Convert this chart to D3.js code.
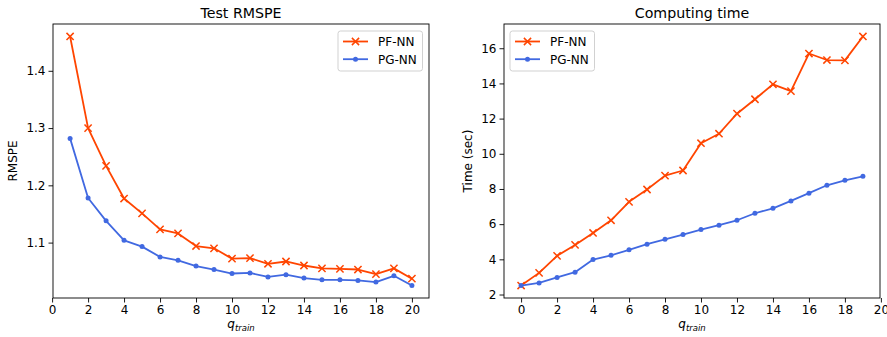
<!DOCTYPE html>
<html>
<head>
<meta charset="utf-8">
<script src="https://cdn.jsdelivr.net/npm/d3@7"></script>
<style>
  body { margin: 0; background: #fff; }
  svg { font-family: "DejaVu Sans", sans-serif; }
</style>
</head>
<body>
<svg id="chart" width="887" height="337"></svg>
<script>
// data
let qRmspe = [1,2,3,4,5,6,7,8,9,10,11,12,13,14,15,16,17,18,19,20];
let pfRmspe = [1.460,1.300,1.234,1.177,1.151,1.123,1.116,1.094,1.090,1.072,1.073,1.063,1.067,1.060,1.055,1.054,1.053,1.045,1.055,1.037];
let pgRmspe = [1.282,1.178,1.138,1.104,1.093,1.075,1.069,1.059,1.053,1.046,1.047,1.040,1.044,1.038,1.035,1.035,1.034,1.031,1.042,1.025];

let qTime = [0,1,2,3,4,5,6,7,8,9,10,11,12,13,14,15,16,17,18,19];
let pfTime = [2.51,3.23,4.20,4.82,5.50,6.22,7.27,7.97,8.76,9.05,10.60,11.14,12.28,13.10,13.95,13.56,15.70,15.33,15.31,16.67];
let pgTime = [2.51,2.66,2.97,3.27,3.99,4.23,4.54,4.86,5.14,5.41,5.69,5.94,6.22,6.62,6.90,7.32,7.76,8.21,8.49,8.72];

let xTicks = [0,2,4,6,8,10,12,14,16,18,20];
let rmspeTicks = [1.1,1.2,1.3,1.4];
let timeTicks = [2,4,6,8,10,12,14,16];

const PF = '#ff4500', PG = '#4169e1';
const svg = d3.select('#chart');

function panel(opt)
{
    const left = opt.left, top = 24, w = 376, h = 274;
    const g = svg.append('g').attr('transform', 'translate(' + left + ',' + top + ')');

    const x = d3.scaleLinear().domain(opt.xDom).range([0, w]);
    const y = d3.scaleLinear().domain(opt.yDom).range([h, 0]);

    // axes
    const xa = g.append('g').attr('transform', 'translate(0,' + h + ')')
        .call(d3.axisBottom(x).tickValues(xTicks).tickSize(4.5).tickPadding(3).tickFormat(d3.format('d')));
    const ya = g.append('g')
        .call(d3.axisLeft(y).tickValues(opt.yTicks).tickSize(4.5).tickPadding(3).tickFormat(opt.yFmt));
    [xa, ya].forEach(a => {
        a.select('.domain').remove();
        a.selectAll('line').attr('stroke', '#000').attr('stroke-width', 0.9);
        a.selectAll('text').attr('fill', '#000').style('font-size', '12px')
         .style('font-family', '"DejaVu Sans", sans-serif');
    });

    // frame
    g.append('rect').attr('width', w).attr('height', h)
        .attr('fill', 'none').attr('stroke', '#000').attr('stroke-width', 0.9);

    // lines
    const line = d3.line().x(d => x(d[0])).y(d => y(d[1]));
    function series(xs, ys, color, marker)
    {
        const pts = xs.map((v, i) => [v, ys[i]]);
        g.append('path').datum(pts).attr('d', line)
            .attr('fill', 'none').attr('stroke', color).attr('stroke-width', 1.8)
            .attr('stroke-linejoin', 'round');
        if (marker == 'x') {
            g.selectAll(null).data(pts).enter().append('path')
                .attr('d', d => { const cx = x(d[0]), cy = y(d[1]), s = 3.6;
                    return 'M' + (cx - s) + ',' + (cy - s) + 'L' + (cx + s) + ',' + (cy + s) +
                           'M' + (cx - s) + ',' + (cy + s) + 'L' + (cx + s) + ',' + (cy - s); })
                .attr('stroke', color).attr('stroke-width', 1.5).attr('fill', 'none');
        } else {
            g.selectAll(null).data(pts).enter().append('circle')
                .attr('cx', d => x(d[0])).attr('cy', d => y(d[1])).attr('r', 2.5)
                .attr('fill', color);
        }
    }
    series(opt.xs, opt.pf, PF, 'x');
    series(opt.xs, opt.pg, PG, 'o');

    // title
    g.append('text').attr('x', w / 2).attr('y', -6).attr('text-anchor', 'middle')
        .style('font-size', '14.2px').attr('fill', '#000').text(opt.title);

    // x label
    const xl = g.append('text').attr('x', w / 2).attr('y', h + 30).attr('text-anchor', 'middle')
        .style('font-size', '12px').style('font-style', 'italic').attr('fill', '#000');
    xl.append('tspan').text('q');
    xl.append('tspan').attr('dy', 2.5).style('font-size', '8.5px').text('train');

    // y label
    g.append('text').attr('transform', 'translate(' + opt.yLabX + ',' + (h / 2) + ') rotate(-90)')
        .attr('text-anchor', 'middle').style('font-size', '12px').attr('fill', '#000').text(opt.yLab);

    // legend
    const lg = g.append('g').attr('transform', 'translate(' + opt.legX + ',7)');
    lg.append('rect').attr('width', 84.5).attr('height', 40).attr('rx', 2.5)
        .attr('fill', '#fff').attr('fill-opacity', 0.8).attr('stroke', '#cccccc').attr('stroke-width', 0.9);
    [['PF-NN', PF, 'x'], ['PG-NN', PG, 'o']].forEach((it, i) => {
        const yy = 10.5 + i * 17.7;
        lg.append('line').attr('x1', 5).attr('x2', 30).attr('y1', yy).attr('y2', yy)
            .attr('stroke', it[1]).attr('stroke-width', 1.8);
        if (it[2] == 'x') {
            const s = 3.6, cx = 17.5;
            lg.append('path').attr('d', 'M' + (cx - s) + ',' + (yy - s) + 'L' + (cx + s) + ',' + (yy + s) +
                'M' + (cx - s) + ',' + (yy + s) + 'L' + (cx + s) + ',' + (yy - s))
                .attr('stroke', it[1]).attr('stroke-width', 1.5);
        } else {
            lg.append('circle').attr('cx', 17.5).attr('cy', yy).attr('r', 2.5).attr('fill', it[1]);
        }
        lg.append('text').attr('x', 40).attr('y', yy + 4.3).style('font-size', '12px')
            .attr('fill', '#000').text(it[0]);
    });
}

panel({left: 53, xDom: [0.05, 20.95], yDom: [1.00325, 1.48175], yTicks: rmspeTicks,
       yFmt: d3.format('.1f'), xs: qRmspe, pf: pfRmspe, pg: pgRmspe,
       title: 'Test RMSPE', yLab: 'RMSPE', yLabX: -36, legX: 285});
panel({left: 504, xDom: [-0.95, 19.95], yDom: [1.802, 17.378], yTicks: timeTicks,
       yFmt: d3.format('d'), xs: qTime, pf: pfTime, pg: pgTime,
       title: 'Computing time', yLab: 'Time (sec)', yLabX: -32, legX: 6});
</script>
</body>
</html>
